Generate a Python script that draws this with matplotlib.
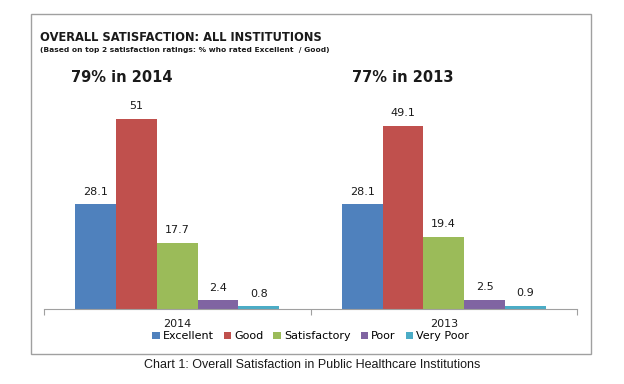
import matplotlib
matplotlib.use('Agg')
import matplotlib.pyplot as plt
from matplotlib.patches import Rectangle
import numpy as np

plt.rcParams['font.family'] = 'DejaVu Sans'

years = ['2014', '2013']
ratings = ['Excellent', 'Good', 'Satisfactory', 'Poor', 'Very Poor']
values = {
    'Excellent': [28.1, 28.1],
    'Good': [51, 49.1],
    'Satisfactory': [17.7, 19.4],
    'Poor': [2.4, 2.5],
    'Very Poor': [0.8, 0.9],
}
top2_labels = ['79% in 2014', '77% in 2013']
colors = ['#4F81BD', '#C0504D', '#9BBB59', '#8064A2', '#4BACC6']

fig = plt.figure(figsize=(6.24, 3.84), dpi=100)
fig.patch.set_facecolor('white')

# outer frame of the chart
fig.patches.append(Rectangle((31 / 624, 1 - 354 / 384), (591 - 31) / 624, (354 - 14) / 384,
                             transform=fig.transFigure, fill=False, edgecolor='#a0a0a0', linewidth=1.0))

ax = fig.add_axes([44 / 624, 1 - 309 / 384, (577 - 44) / 624, (309 - 85) / 384])
x = np.arange(len(years))
width = 0.153
for i, r in enumerate(ratings):
    pos = x - 2 * width + i * width
    bars = ax.bar(pos, values[r], width, color=colors[i], label=r, edgecolor='none')
    for b, v in zip(bars, values[r]):
        ax.text(b.get_x() + b.get_width() / 2, v + 2.0, f'{v:g}', ha='center', va='bottom',
                fontsize=8, color='#1a1a1a')

ax.set_xlim(-0.5, 1.5)
ax.set_ylim(0, 60)
for s in ['top', 'right', 'left']:
    ax.spines[s].set_visible(False)
ax.spines['bottom'].set_color('#a0a0a0')
ax.set_yticks([])
ax.set_xticks([-0.5, 0.5, 1.5])
ax.set_xticklabels([])
ax.tick_params(axis='x', length=4, color='#a0a0a0')
for xi, y in zip(x, years):
    ax.text(xi, -2.6, y, ha='center', va='top', fontsize=8, color='#1a1a1a')

for xi, dx, t in zip(x, [-0.207, -0.153], top2_labels):
    ax.text(xi + dx, 62, t, ha='center', va='center', fontsize=10.5, fontweight='bold', color='#1a1a1a')

ax.legend(loc='upper center', bbox_to_anchor=(0.5, -0.08), ncol=5, frameon=False, fontsize=8,
          handlelength=0.7, handleheight=0.7, handletextpad=0.25, columnspacing=0.9, borderaxespad=0)

fig.text(40 / 624, 1 - 41 / 384, 'OVERALL SATISFACTION: ALL INSTITUTIONS', fontsize=8.3, fontweight='bold',
         va='baseline', ha='left', color='#1a1a1a')
fig.text(40 / 624, 1 - 52 / 384, '(Based on top 2 satisfaction ratings: % who rated Excellent  / Good)',
         fontsize=5.4, fontweight='bold', va='baseline', ha='left', color='#1a1a1a')
fig.text(0.5, 1 - 365 / 384, 'Chart 1: Overall Satisfaction in Public Healthcare Institutions',
         family='Liberation Sans', fontsize=9, ha='center', va='center', color='#1a1a1a')

fig.savefig('out.png', dpi=100)
